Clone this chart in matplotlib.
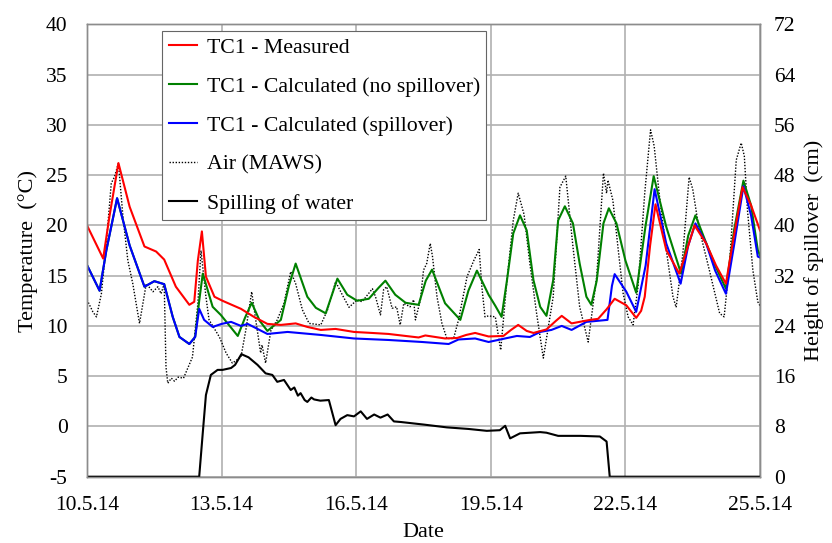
import matplotlib
matplotlib.use("Agg")
import matplotlib.pyplot as plt
import matplotlib.dates as mdates
from matplotlib.lines import Line2D
import pandas as pd

plt.rcParams['font.family'] = ['Liberation Serif', 'DejaVu Serif']
plt.rcParams['axes.unicode_minus'] = False

start_date = "2014-05-10"

# ---- data (x in days since 10.5.14) ----
meas_x = [0.00, 0.36, 0.50, 0.70, 0.95, 1.28, 1.54, 1.72, 1.98, 2.28, 2.39, 2.47, 2.56, 2.65, 2.84,
          3.02, 3.43, 3.72, 4.02, 4.32, 4.65, 4.91, 5.21, 5.54, 5.95, 6.35, 6.72, 7.10, 7.39, 7.54,
          7.98, 8.25, 8.45, 8.65, 8.95, 9.28, 9.45, 9.61, 9.80, 9.95, 10.24, 10.45, 10.58, 10.80,
          11.21, 11.39, 11.58, 11.76, 12.02, 12.24, 12.35, 12.43, 12.55, 12.67, 12.91, 13.20, 13.40,
          13.54, 13.80, 14.02, 14.24, 14.40, 14.61, 14.80, 15.00]
meas_y = [20.0, 16.7, 20.9, 26.2, 21.85, 17.9, 17.4, 16.6, 13.9, 12.1, 12.4, 16.5, 19.4, 14.9, 12.9,
          12.5, 11.7, 10.9, 10.2, 10.1, 10.25, 9.9, 9.6, 9.7, 9.4, 9.3, 9.2, 9.0, 8.85, 9.05,
          8.75, 8.8, 9.1, 9.3, 8.95, 9.0, 9.6, 10.1, 9.5, 9.3, 9.65, 10.5, 11.0, 10.25,
          10.6, 10.7, 11.65, 12.7, 12.05, 10.8, 11.5, 12.9, 18.0, 22.1, 17.55, 15.2, 18.0,
          20.0, 18.2, 16.0, 14.2, 18.5, 23.8, 22.0, 19.5]

spill_calc_x = [0.00, 0.28, 0.43, 0.67, 0.95, 1.28, 1.50, 1.72, 1.91, 2.06, 2.28, 2.41, 2.50, 2.61,
                2.80, 3.00, 3.21, 3.43, 3.58, 4.02, 4.47, 5.21, 5.95, 6.72, 7.47, 8.06, 8.28, 8.65,
                8.95, 9.58, 9.87, 10.10, 10.35, 10.58, 10.80, 11.13, 11.60, 11.70, 11.76, 12.02,
                12.24, 12.45, 12.65, 12.91, 13.23, 13.40, 13.56, 13.80, 14.00, 14.24, 14.42, 14.63,
                14.80, 14.95, 15.00]
spill_calc_y = [16.05, 13.5, 17.5, 22.7, 18.0, 13.9, 14.45, 14.15, 10.9, 8.9, 8.2, 8.9, 11.7, 10.6,
                9.9, 10.2, 10.4, 10.0, 10.2, 9.2, 9.4, 9.1, 8.75, 8.6, 8.4, 8.2, 8.65, 8.75,
                8.4, 9.0, 8.9, 9.4, 9.6, 10.0, 9.6, 10.4, 10.6, 14.0, 15.15, 13.4,
                11.4, 16.0, 23.6, 18.2, 14.2, 18.0, 20.2, 18.2, 15.5, 13.2, 18.0, 23.9,
                21.0, 16.9, 16.8]

nospill_x = [0.00, 0.28, 0.43, 0.67, 0.95, 1.28, 1.50, 1.72, 1.91, 2.06, 2.28, 2.41, 2.50, 2.58,
             2.80, 2.98, 3.36, 3.52, 3.67, 3.85, 4.02, 4.32, 4.50, 4.65, 4.91, 5.10, 5.32, 5.58,
             5.80, 6.02, 6.28, 6.50, 6.65, 6.87, 7.10, 7.39, 7.55, 7.69, 7.98, 8.32, 8.50, 8.69,
             8.95, 9.10, 9.24, 9.36, 9.50, 9.65, 9.80, 9.95, 10.10, 10.24, 10.39, 10.50, 10.65,
             10.83, 10.98, 11.13, 11.24, 11.36, 11.51, 11.63, 11.80, 12.00, 12.24, 12.45, 12.63,
             12.91, 13.24, 13.40, 13.56, 13.76, 14.00, 14.24, 14.42, 14.63, 14.80, 14.95, 15.00]
nospill_y = [16.05, 13.5, 17.5, 22.7, 18.0, 13.9, 14.45, 14.15, 10.9, 8.9, 8.2, 8.9, 12.5, 15.2,
             11.9, 11.1, 9.0, 10.8, 12.3, 10.5, 9.5, 10.6, 14.0, 16.2, 12.9, 11.8, 11.25, 14.7,
             13.1, 12.5, 12.7, 13.8, 14.5, 13.1, 12.3, 12.1, 14.5, 15.6, 12.25, 10.6, 13.5, 15.5,
             13.1, 12.0, 10.9, 14.55, 19.2, 21.0, 19.5, 14.55, 11.9, 11.0, 14.55, 20.5, 21.9,
             20.2, 16.2, 12.9, 12.1, 14.5, 20.2, 21.7, 20.2, 16.5, 13.3, 20.0, 24.9,
             19.85, 15.2, 19.0, 21.0, 18.7, 16.0, 13.7, 19.5, 24.45, 22.0, 17.55, 17.0]

air_x = [0.00, 0.13, 0.21, 0.32, 0.43, 0.54, 0.61, 0.70, 0.80, 0.91, 1.02, 1.17, 1.32, 1.47, 1.58,
         1.65, 1.72, 1.76, 1.80, 1.88, 1.95, 2.03, 2.15, 2.35, 2.47, 2.54, 2.65, 2.72, 2.95, 3.10,
         3.24, 3.43, 3.54, 3.67, 3.76, 3.87, 3.90, 3.98, 4.10, 4.24, 4.39, 4.54, 4.65, 4.80, 4.95,
         5.21, 5.36, 5.54, 5.70, 5.84, 6.02, 6.13, 6.36, 6.43, 6.54, 6.61, 6.68, 6.80, 6.90, 6.98,
         7.06, 7.20, 7.28, 7.32, 7.43, 7.50, 7.57, 7.65, 7.70, 7.80, 7.91, 8.02, 8.17, 8.28, 8.47,
         8.62, 8.74, 8.80, 8.87, 8.95, 9.10, 9.22, 9.36, 9.50, 9.61, 9.74, 9.87, 10.02, 10.17,
         10.39, 10.54, 10.67, 10.83, 10.98, 11.17, 11.36, 11.51, 11.58, 11.61, 11.72, 11.84,
         11.95, 12.06, 12.17, 12.28, 12.43, 12.56, 12.64, 12.76, 12.91, 13.06, 13.13, 13.28,
         13.42, 13.50, 13.61, 13.68, 13.87, 14.10, 14.20, 14.32, 14.47, 14.58, 14.65, 14.72,
         14.84, 14.95, 15.00]
air_y = [12.6, 11.4, 10.9, 13.2, 18.2, 24.2, 24.8, 26.2, 20.9, 16.5, 14.2, 10.25, 14.2, 13.4, 13.9,
         13.2, 14.2, 5.9, 4.3, 4.8, 4.5, 4.9, 4.8, 6.9, 12.2, 17.5, 12.9, 10.6, 8.9, 7.3,
         6.3, 6.9, 9.6, 13.4, 10.6, 7.3, 8.1, 6.3, 9.6, 10.6, 12.25, 15.4, 14.2, 11.6, 10.25,
         10.1, 11.6, 14.4, 13.0, 11.85, 12.6, 12.4, 13.7, 12.9, 11.1, 13.6, 13.9, 11.75, 11.9, 10.1,
         12.25, 11.9, 12.6, 10.6, 12.6, 15.55, 16.2, 18.2, 16.9, 12.9, 10.25, 8.75, 8.75, 10.6, 14.9,
         16.5, 17.6, 13.9, 10.9, 11.0, 10.9, 7.6, 14.55, 20.5, 23.2, 21.1, 16.2, 11.25, 6.8,
         12.9, 23.8, 24.9, 17.9, 11.9, 8.4, 14.9, 25.2, 23.2, 24.5, 22.5, 17.55,
         13.2, 10.9, 10.1, 13.9, 23.2, 29.5, 27.9, 22.85, 17.55, 12.9, 11.85, 17.2,
         24.8, 23.6, 20.5, 19.0, 15.55, 11.25, 10.9, 16.2, 26.5, 28.2, 26.9, 21.5,
         15.55, 12.4, 12.0]

spillh_x = [0.00, 2.50, 2.58, 2.65, 2.76, 2.91, 3.02, 3.21, 3.30, 3.44, 3.60, 3.80, 3.98, 4.13,
            4.24, 4.39, 4.54, 4.62, 4.70, 4.76, 4.85, 4.91, 5.00, 5.06, 5.20, 5.39, 5.54, 5.65,
            5.80, 5.95, 6.10, 6.24, 6.40, 6.54, 6.70, 6.84, 7.00, 7.50, 8.02, 8.50, 8.91, 9.20,
            9.32, 9.43, 9.65, 10.10, 10.24, 10.50, 11.00, 11.43, 11.58, 11.65, 15.00]
spillh_y = [0.0, 0.0, 7.0, 13.0, 16.2, 17.0, 17.0, 17.3, 17.8, 19.5, 19.0, 17.8, 16.45, 16.2,
            15.1, 15.4, 13.8, 14.2, 12.9, 13.3, 12.2, 11.9, 12.6, 12.3, 12.1, 12.2, 8.2, 9.2,
            9.8, 9.6, 10.4, 9.2, 9.9, 9.4, 9.9, 8.8, 8.7, 8.3, 7.85, 7.6, 7.3, 7.4,
            8.1, 6.1, 6.9, 7.1, 7.0, 6.5, 6.5, 6.4, 5.6, 0.0, 0.0]

temp_ticks = [-5, 0, 5, 10, 15, 20, 25, 30, 35, 40]
height_ticks = [0, 8, 16, 24, 32, 40, 48, 56, 64, 72]


def to_dates(days):
    return pd.Timestamp(start_date) + pd.to_timedelta(days, unit="D")


fig = plt.figure(figsize=(8.32, 5.43), dpi=100)
ax = fig.add_axes([0.1046, 0.1221, 0.8089, 0.8331])
ax2 = ax.twinx()

grid_c = '#b0b0b0'
ax.set_axisbelow(True)
ax.grid(True, color=grid_c, linewidth=1.2)

l_air, = ax.plot(to_dates(air_x), air_y, color='black', linestyle=(0, (1, 1.2)), linewidth=1.0)
l_green, = ax.plot(to_dates(nospill_x), nospill_y, color='#008000', linewidth=1.5)
l_blue, = ax.plot(to_dates(spill_calc_x), spill_calc_y, color='#0000ff', linewidth=1.5)
l_red, = ax.plot(to_dates(meas_x), meas_y, color='#ff0000', linewidth=1.5)
l_sp, = ax2.plot(to_dates(spillh_x), spillh_y, color='black', linewidth=1.5)

ax.set_xlim(pd.Timestamp(start_date), pd.Timestamp(start_date) + pd.Timedelta(days=15))
ax.set_ylim(-5, 40)
ax.set_yticks(temp_ticks)
ax2.set_ylim(0, 72)
ax2.set_yticks(height_ticks)

ax.xaxis.set_major_locator(mdates.DayLocator(bymonthday=[10, 13, 16, 19, 22, 25]))
ax.xaxis.set_major_formatter(mdates.DateFormatter('%-d.%-m.%y'))

ax.tick_params(axis='x', length=0, labelsize=15.5, pad=14)
ax.tick_params(axis='y', length=0, labelsize=15.5, pad=14)
ax2.tick_params(axis='y', length=0, labelsize=15.5, pad=10)
for a in (ax, ax2):
    for s in a.spines.values():
        s.set_color('#8c8c8c')
        s.set_linewidth(1.0)

ax.set_ylabel('Temperature  (°C)', fontsize=16, labelpad=6)
ax2.set_ylabel('Height of spillover  (cm)', fontsize=16, labelpad=6)
ax.set_xlabel('Date', fontsize=16, labelpad=6)

handles = [Line2D([], [], color='#ff0000', linewidth=1.5),
           Line2D([], [], color='#008000', linewidth=1.5),
           Line2D([], [], color='#0000ff', linewidth=1.5),
           Line2D([], [], color='black', linestyle=(0, (1, 1.2)), linewidth=1.0),
           Line2D([], [], color='black', linewidth=1.5)]
labels = ['TC1 - Measured', 'TC1 - Calculated (no spillover)', 'TC1 - Calculated (spillover)',
          'Air (MAWS)', 'Spilling of water']
leg = ax2.legend(handles, labels, loc='upper left', bbox_to_anchor=(162 / 832, 1 - 31 / 543),
                 bbox_transform=fig.transFigure, fontsize=15.7, frameon=True, fancybox=False,
                 framealpha=1, edgecolor='#666666', borderpad=0.3, labelspacing=0.86,
                 handlelength=1.3, handletextpad=0.45, borderaxespad=0)
leg.get_frame().set_linewidth(0.8)

fig.savefig('out.png', dpi=100)
